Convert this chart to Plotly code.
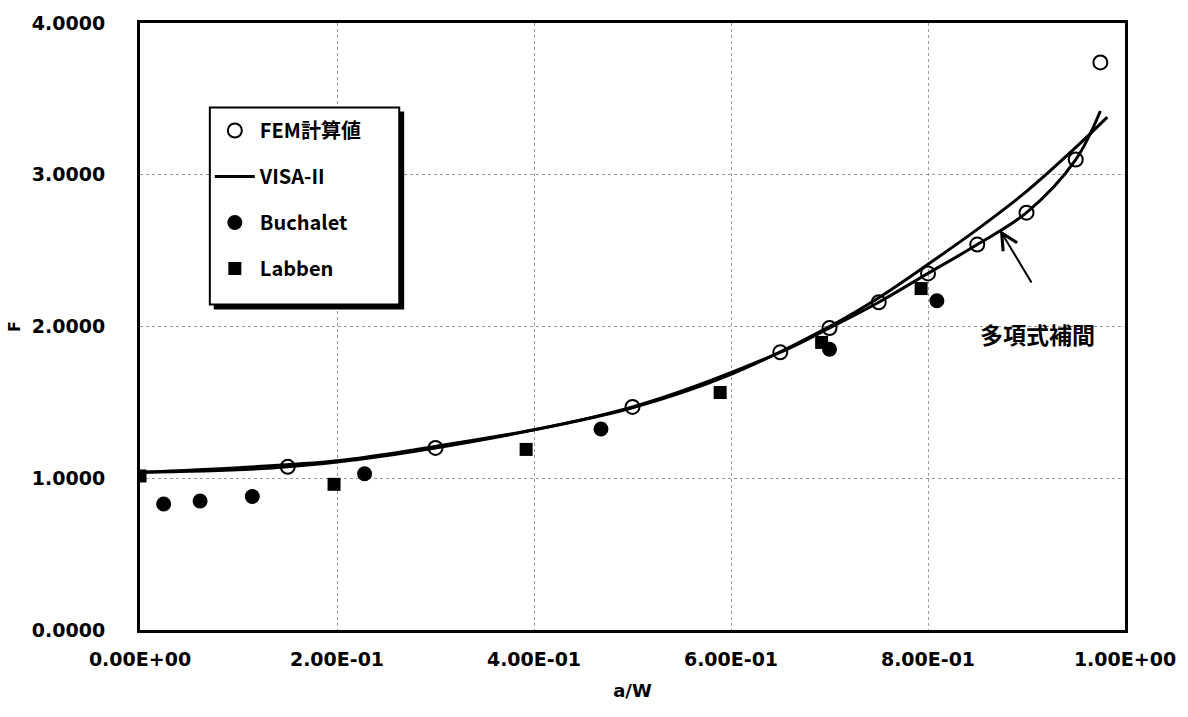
import plotly.graph_objects as go

# ---- data ----
fem_x = [0.15, 0.30, 0.50, 0.65, 0.70, 0.75, 0.80, 0.85, 0.90, 0.95, 0.975]
fem_y = [1.075, 1.20, 1.47, 1.83, 1.99, 2.16, 2.35, 2.54, 2.75, 3.10, 3.74]

visa_x = [0.0, 0.1, 0.2, 0.3, 0.4, 0.5, 0.6, 0.7, 0.75, 0.8, 0.85, 0.9, 0.95, 0.982]
visa_y = [1.04, 1.07, 1.115, 1.21, 1.32, 1.465, 1.685, 2.0, 2.19, 2.41, 2.64, 2.89, 3.18, 3.38]

poly_x = [0.0, 0.15, 0.30, 0.50, 0.65, 0.70, 0.75, 0.80, 0.85, 0.90, 0.95, 0.975]
poly_y = [1.04, 1.075, 1.20, 1.47, 1.83, 1.99, 2.16, 2.35, 2.54, 2.75, 3.10, 3.42]

buch_x = [0.024, 0.061, 0.114, 0.228, 0.468, 0.700, 0.809]
buch_y = [0.83, 0.85, 0.88, 1.03, 1.325, 1.85, 2.17]

labb_x = [0.0, 0.197, 0.392, 0.589, 0.692, 0.793]
labb_y = [1.015, 0.96, 1.19, 1.565, 1.895, 2.25]

x_tickvals = [0.0, 0.2, 0.4, 0.6, 0.8, 1.0]
x_ticktext = ["0.00E+00", "2.00E-01", "4.00E-01", "6.00E-01", "8.00E-01", "1.00E+00"]
y_tickvals = [0, 1, 2, 3, 4]

FONT = "DejaVu Sans"
CJK = "Noto Sans CJK JP"

fig = go.Figure()

fig.add_trace(go.Scatter(
    x=poly_x, y=poly_y, mode="lines", line=dict(color="black", width=3, shape="spline"),
    showlegend=False, name="多項式補間"))

fig.add_trace(go.Scatter(
    x=fem_x, y=fem_y, mode="markers", name="FEM計算値", legendgroup="a",
    marker=dict(symbol="circle-open", size=14, color="black", line=dict(width=2))))

fig.add_trace(go.Scatter(
    x=visa_x, y=visa_y, mode="lines", name="VISA-II", legendgroup="b",
    line=dict(color="black", width=3, shape="spline")))

fig.add_trace(go.Scatter(
    x=buch_x, y=buch_y, mode="markers", name="Buchalet", legendgroup="c",
    marker=dict(symbol="circle", size=15, color="black")))

fig.add_trace(go.Scatter(
    x=labb_x, y=labb_y, mode="markers", name="Labben", legendgroup="d",
    marker=dict(symbol="square", size=13, color="black")))

axis_common = dict(
    showline=True, linecolor="black", linewidth=3, mirror=True,
    showgrid=True, gridcolor="#9a9a9a", gridwidth=1, griddash="dot",
    zeroline=False, ticks="",
    tickfont=dict(family=FONT, size=19, color="black", weight="bold"),
)

fig.update_xaxes(
    range=[0, 1.0], tickvals=x_tickvals, ticktext=x_ticktext,
    title=dict(text="a/W", font=dict(family=FONT, size=18, color="black", weight="bold"), standoff=16),
    ticklabelstandoff=10, **axis_common)

fig.update_yaxes(
    range=[0, 4.0], tickvals=y_tickvals, tickformat=".4f",
    title=dict(text="F", font=dict(family=FONT, size=16, color="black", weight="bold"), standoff=8),
    ticklabelstandoff=28, **axis_common)

# legend frame with drop shadow
fig.add_shape(type="rect", xref="paper", yref="paper",
              x0=0.0749, x1=0.2682, y0=0.5279, y1=0.8541,
              fillcolor="black", line=dict(width=0), layer="above")
fig.add_shape(type="rect", xref="paper", yref="paper",
              x0=0.0709, x1=0.2632, y0=0.5361, y1=0.8607,
              fillcolor="white", line=dict(color="black", width=2), layer="above")

# arrow for the polynomial interpolation label
fig.add_annotation(
    x=0.873, y=2.636, ax=0.906, ay=2.28, xref="x", yref="y", axref="x", ayref="y",
    text="", showarrow=True, arrowhead=5, arrowsize=1.6, arrowwidth=2, arrowcolor="black")
fig.add_annotation(
    x=0.911, y=1.95, xref="x", yref="y", text="多項式補間", showarrow=False,
    font=dict(family=CJK, size=23, color="black", weight="bold"))

fig.update_layout(
    width=1188, height=717,
    margin=dict(l=140, r=60, t=20, b=87),
    paper_bgcolor="white", plot_bgcolor="white",
    legend=dict(
        x=0.0709, y=0.855, xanchor="left", yanchor="top",
        bgcolor="rgba(0,0,0,0)", borderwidth=0,
        font=dict(family=CJK, size=20, color="black", weight="bold"),
        tracegroupgap=17, itemwidth=40,
    ),
)

fig.write_html("out.html")
